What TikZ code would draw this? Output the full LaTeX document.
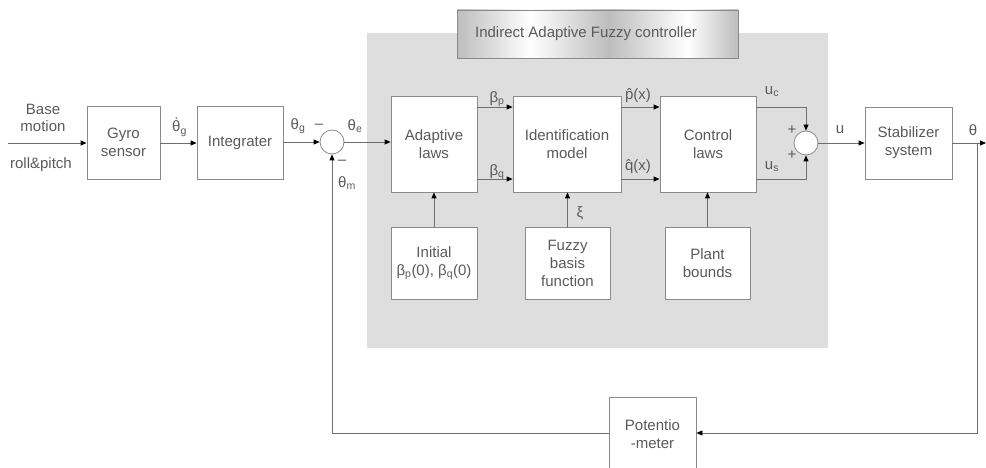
\documentclass[tikz,border=0pt]{standalone}
\usepackage{fontspec}
\setmainfont{Liberation Sans}
\usetikzlibrary{arrows.meta}
\definecolor{linec}{HTML}{6E6E6E}
\definecolor{boxc}{HTML}{8A8A8A}
\definecolor{txtc}{HTML}{5A5A5A}
\definecolor{regionc}{HTML}{DEDEDE}
\definecolor{capc}{HTML}{BDBDBD}
\pgfdeclarehorizontalshading{titleshade}{100bp}{%
  color(0bp)=(capc); color(25bp)=(capc); color(38bp)=(white);
  color(52bp)=(capc); color(66bp)=(white); color(75bp)=(capc); color(100bp)=(capc)}
\tikzset{
  txt/.style={text=txtc, font=\fontsize{15}{18}\selectfont, inner sep=0pt},
  blk/.style={draw=boxc, fill=white, line width=0.8pt, align=center, txt},
  sumc/.style={circle, draw=boxc, fill=white, line width=0.8pt, minimum size=24pt, inner sep=0pt},
  arr/.style={draw=linec, line width=0.8pt, -{Triangle[length=6pt,width=5pt,color=black]}},
  ln/.style={draw=linec, line width=0.8pt},
}
\begin{document}
\begin{tikzpicture}[x=1pt,y=-1pt]
\useasboundingbox (0,0) rectangle (986,468);

% controller region and its caption
\fill[regionc] (367,33) rectangle (828,348);
\shade[shading=titleshade] (457,10) rectangle (738,58);
\draw[boxc, line width=0.8pt] (457,10) rectangle (738,58);
\node[txt] (cap) at (586,34) {Indirect Adaptive Fuzzy controller};

% blocks
\node[blk, minimum width=73pt, minimum height=73pt] (gyro) at (123.5,142.5) {Gyro\\sensor};
\node[blk, minimum width=86pt, minimum height=73pt] (integ) at (240,142.5) {Integrater};
\node[blk, minimum width=86pt, minimum height=96pt] (adapt) at (434,144) {Adaptive\\laws};
\node[blk, minimum width=108pt, minimum height=96pt] (ident) at (567,144) {Identification\\model};
\node[blk, minimum width=96pt, minimum height=96pt] (ctrl) at (708,144) {Control\\laws};
\node[blk, minimum width=87pt, minimum height=72pt] (stab) at (908.5,143) {Stabilizer\\system};
\node[blk, minimum width=86pt, minimum height=72pt] (init) at (434,263) {Initial\\β\textsubscript{p}(0), β\textsubscript{q}(0)};
\node[blk, minimum width=85pt, minimum height=72pt] (fuzzy) at (567.5,263) {Fuzzy\\basis\\function};
\node[blk, minimum width=85pt, minimum height=72pt] (plant) at (707.5,263) {Plant\\bounds};
\node[blk, minimum width=87pt, minimum height=74pt] (pot) at (652.5,434) {Potentio\\-meter};

% summing junctions
\node[sumc] (s1) at (332,142) {};
\node[sumc] (s2) at (806,143) {};

% helper coordinates
\coordinate (in) at (8,143);
\coordinate (yp) at (0,107);
\coordinate (yq) at (0,179);
\coordinate (out) at (986,143);
\coordinate (tap) at (977,143);
\coordinate (cr) at (977,433);
\coordinate (cl) at (332,433);
\coordinate (uc) at (806,107);
\coordinate (us) at (806,179);

% forward path
\draw[arr] (in) -- (gyro.west |- in);
\draw[arr] (gyro.east |- in) -- (integ.west |- in);
\draw[arr] (integ.east |- s1) -- (s1.west);
\draw[arr] (s1.east) -- (adapt.west |- s1);
\draw[arr] (adapt.east |- yp) -- (ident.west |- yp);
\draw[arr] (adapt.east |- yq) -- (ident.west |- yq);
\draw[arr] (ident.east |- yp) -- (ctrl.west |- yp);
\draw[arr] (ident.east |- yq) -- (ctrl.west |- yq);
\draw[arr] (ctrl.east |- yp) -- (uc) -- (s2.north);
\draw[arr] (ctrl.east |- yq) -- (us) -- (s2.south);
\draw[arr] (s2.east) -- (stab.west |- s2);
\draw[arr] (stab.east |- s2) -- (out);

% inputs from below
\draw[arr] (init.north) -- (adapt.south);
\draw[arr] (fuzzy.north) -- (fuzzy.north |- ident.south);
\draw[arr] (plant.north) -- (plant.north |- ctrl.south);

% feedback path
\draw[arr] (tap) -- (cr) -- (pot.east |- cr);
\draw[arr] (pot.west |- cl) -- (cl) -- (s1.south);

% signal labels
\node[txt, align=center, font=\fontsize{15}{17}\selectfont] (lbase) at (43,117.5) {Base\\motion};
\node[txt] (lroll) at (41,165) {roll\&pitch};
\node[txt, anchor=base west] (lthd) at (172,132) {θ\textsubscript{g}};
% time-derivative dot over the theta
\fill[txtc] (lthd.base west) ++(4.3,-14) circle (0.9pt);
\node[txt] (lthg) at (298,126) {θ\textsubscript{g}};
\node[txt] (lm1) at (319,126) {–};
\node[txt] (lthe) at (355,126) {θ\textsubscript{e}};
\node[txt] (lm2) at (342,162) {–};
\node[txt] (lthm) at (347,183) {θ\textsubscript{m}};
\node[txt] (lbp) at (497,99) {β\textsubscript{p}};
\node[txt] (lbq) at (497,172) {β\textsubscript{q}};
\node[txt] (lph) at (638,96) {\^{p}(x)};
\node[txt] (lqh) at (638,167) {\^{q}(x)};
\node[txt] (luc) at (772,92) {u\textsubscript{c}};
\node[txt] (lus) at (772,167) {u\textsubscript{s}};
\node[txt] (lp1) at (792,130) {+};
\node[txt] (lp2) at (792,155) {+};
\node[txt] (lu) at (840,130) {u};
\node[txt] (lth) at (973,130) {θ};
\node[txt] (lxi) at (580,213) {ξ};
\end{tikzpicture}
\end{document}
